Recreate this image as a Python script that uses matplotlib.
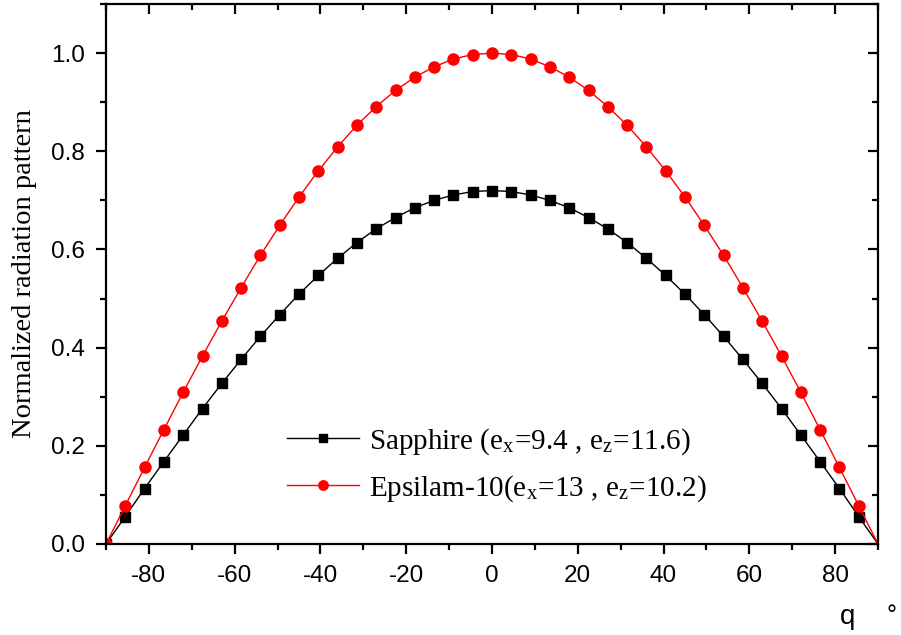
import matplotlib
matplotlib.use("Agg")
import matplotlib.pyplot as plt
from matplotlib.ticker import MultipleLocator

# Angle (degrees)
theta = [-90, -85.5, -81, -76.5, -72, -67.5, -63, -58.5, -54, -49.5, -45,
         -40.5, -36, -31.5, -27, -22.5, -18, -13.5, -9, -4.5, 0,
         4.5, 9, 13.5, 18, 22.5, 27, 31.5, 36, 40.5, 45,
         49.5, 54, 58.5, 63, 67.5, 72, 76.5, 81, 85.5, 90]

# Normalized radiation pattern, Sapphire substrate
sapphire = [0.000, 0.056, 0.113, 0.168, 0.222, 0.276, 0.327, 0.376, 0.423, 0.467, 0.509,
            0.547, 0.582, 0.614, 0.642, 0.665, 0.685, 0.700, 0.711, 0.718, 0.720,
            0.718, 0.711, 0.700, 0.685, 0.665, 0.642, 0.614, 0.582, 0.547, 0.509,
            0.467, 0.423, 0.376, 0.327, 0.276, 0.222, 0.168, 0.113, 0.056, 0.000]

# Normalized radiation pattern, Epsilam-10 substrate
epsilam = [0.000, 0.078, 0.156, 0.233, 0.309, 0.383, 0.454, 0.522, 0.588, 0.649, 0.707,
           0.760, 0.809, 0.853, 0.891, 0.924, 0.951, 0.972, 0.988, 0.997, 1.000,
           0.997, 0.988, 0.972, 0.951, 0.924, 0.891, 0.853, 0.809, 0.760, 0.707,
           0.649, 0.588, 0.522, 0.454, 0.383, 0.309, 0.233, 0.156, 0.078, 0.000]

xticks = [-80, -60, -40, -20, 0, 20, 40, 60, 80]
yticks = [0.0, 0.2, 0.4, 0.6, 0.8, 1.0]

plt.rcParams['mathtext.fontset'] = 'stix'

fig = plt.figure(figsize=(9.01, 6.35), dpi=100)
ax = fig.add_axes([106 / 901, 1 - 544 / 635, 772 / 901, 540 / 635])

marks = list(range(len(theta) - 1))
ax.plot(theta, sapphire, color='black', lw=1.0, marker='s', ms=7,
        markevery=marks, label=r'Sapphire (e$_\mathregular{x}$=9.4 , e$_\mathregular{z}$=11.6)')
ax.plot(theta, epsilam, color='red', lw=1.0, marker='o', ms=8,
        markevery=marks, label=r'Epsilam-10(e$_\mathregular{x}$=13 , e$_\mathregular{z}$=10.2)')

ax.set_xlim(-90, 90)
ax.set_ylim(0, 1.1)
ax.set_xticks(xticks)
ax.set_yticks(yticks)
ax.set_xticklabels([str(v) for v in xticks], family='Liberation Sans', fontsize=17.5)
ax.set_yticklabels([f'{v:.1f}' for v in yticks], family='Liberation Sans', fontsize=17.5)
ax.xaxis.set_minor_locator(MultipleLocator(10))
ax.yaxis.set_minor_locator(MultipleLocator(0.1))

for s in ax.spines.values():
    s.set_linewidth(1.6)

ax.tick_params(which='major', direction='out', length=7, width=1.6, pad=8,
               bottom=True, left=True, top=True, right=True)
ax.tick_params(which='minor', direction='out', length=4, width=1.6,
               bottom=True, left=True, top=True, right=True)
# ticks on the top and right sides point inward
for t in ax.xaxis.get_major_ticks() + ax.xaxis.get_minor_ticks():
    t.tick2line.set_marker(3)
for t in ax.yaxis.get_major_ticks() + ax.yaxis.get_minor_ticks():
    t.tick2line.set_marker(0)

ax.set_ylabel('Normalized radiation pattern', family='Liberation Serif',
              fontsize=20.5)
ax.yaxis.set_label_coords(-0.089, 0.5)

fig.text(848 / 901, 1 - 617 / 635, 'q', family='Liberation Sans', fontsize=20,
         ha='center', va='center')
fig.text(892 / 901, 1 - 616 / 635, '°', family='Liberation Sans', fontsize=18,
         ha='center', va='center')

leg = ax.legend(loc='lower left', bbox_to_anchor=(0.20, 0.026), frameon=False,
                prop={'family': 'Liberation Serif', 'size': 21},
                handlelength=2.47, handletextpad=0.34, labelspacing=0.55,
                markerscale=0.85)

fig.savefig('out.png', dpi=100)
